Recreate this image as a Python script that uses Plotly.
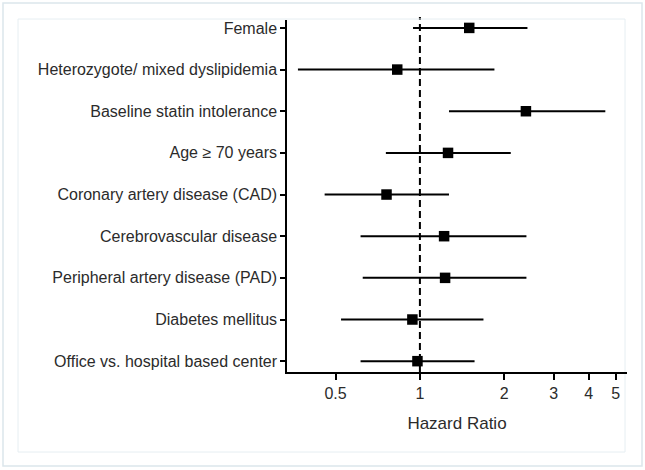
import plotly.graph_objects as go

labels = [
    "Female",
    "Heterozygote/ mixed dyslipidemia",
    "Baseline statin intolerance",
    "Age \u2265 70 years",
    "Coronary artery disease (CAD)",
    "Cerebrovascular disease",
    "Peripheral artery disease (PAD)",
    "Diabetes mellitus",
    "Office vs. hospital based center",
]
hr = [1.50, 0.83, 2.39, 1.26, 0.76, 1.22, 1.23, 0.94, 0.98]
lower = [0.945, 0.367, 1.27, 0.756, 0.457, 0.614, 0.625, 0.523, 0.614]
upper = [2.42, 1.845, 4.59, 2.11, 1.27, 2.40, 2.40, 1.686, 1.567]
xticks = [0.5, 1, 2, 3, 4, 5]

W, H = 645, 470
L, R, T, B = 287, 18, 20, 98
pw, ph = W - L - R, H - T - B

def px(x):
    return (x - L) / pw

def py(y):
    return (H - B - y) / ph

fig = go.Figure()
fig.add_trace(go.Scatter(
    x=hr, y=labels, mode="markers",
    marker=dict(symbol="square", size=10.5, color="black"),
    error_x=dict(type="data", symmetric=False,
                 array=[u - h for u, h in zip(upper, hr)],
                 arrayminus=[h - l for h, l in zip(hr, lower)],
                 width=0, thickness=2, color="black"),
    showlegend=False, cliponaxis=False,
))

fig.add_shape(type="line", xref="x", yref="paper", x0=1, x1=1, y0=0, y1=py(17),
              line=dict(color="black", width=2, dash="7px,4px"), layer="below")

# frames
fig.add_shape(type="rect", xref="paper", yref="paper",
              x0=px(3), x1=px(642), y0=py(466), y1=py(3),
              line=dict(color="#dce6ec", width=1.5), layer="below")
fig.add_shape(type="rect", xref="paper", yref="paper",
              x0=px(18), x1=px(625), y0=py(452), y1=py(19),
              line=dict(color="#e6eef2", width=1), layer="below")

font = dict(family="Arial, Liberation Sans, sans-serif", size=16, color="#2b2b2b")

fig.update_layout(
    width=W, height=H,
    margin=dict(l=L, r=R, t=T, b=B),
    paper_bgcolor="white", plot_bgcolor="white",
    font=font,
    xaxis=dict(type="log", range=[-0.4744, 0.7392],
               tickvals=xticks, ticktext=[str(v) for v in xticks],
               ticks="outside", ticklen=6, tickwidth=1.5, tickcolor="black",
               showline=True, linecolor="black", linewidth=1.5,
               showgrid=False, zeroline=False,
               tickfont=dict(size=16, color="#2b2b2b"),
               title=dict(text="Hazard Ratio", font=dict(size=17, color="#2b2b2b"), standoff=16)),
    yaxis=dict(type="category", categoryorder="array", categoryarray=labels[::-1],
               range=[-0.26, 8.19],
               ticks="outside", ticklen=5, tickwidth=1.5, tickcolor="black",
               showline=True, linecolor="black", linewidth=1.5,
               showgrid=False, zeroline=False,
               tickfont=dict(size=16, color="#2b2b2b")),
)

fig.write_html("out.html")
